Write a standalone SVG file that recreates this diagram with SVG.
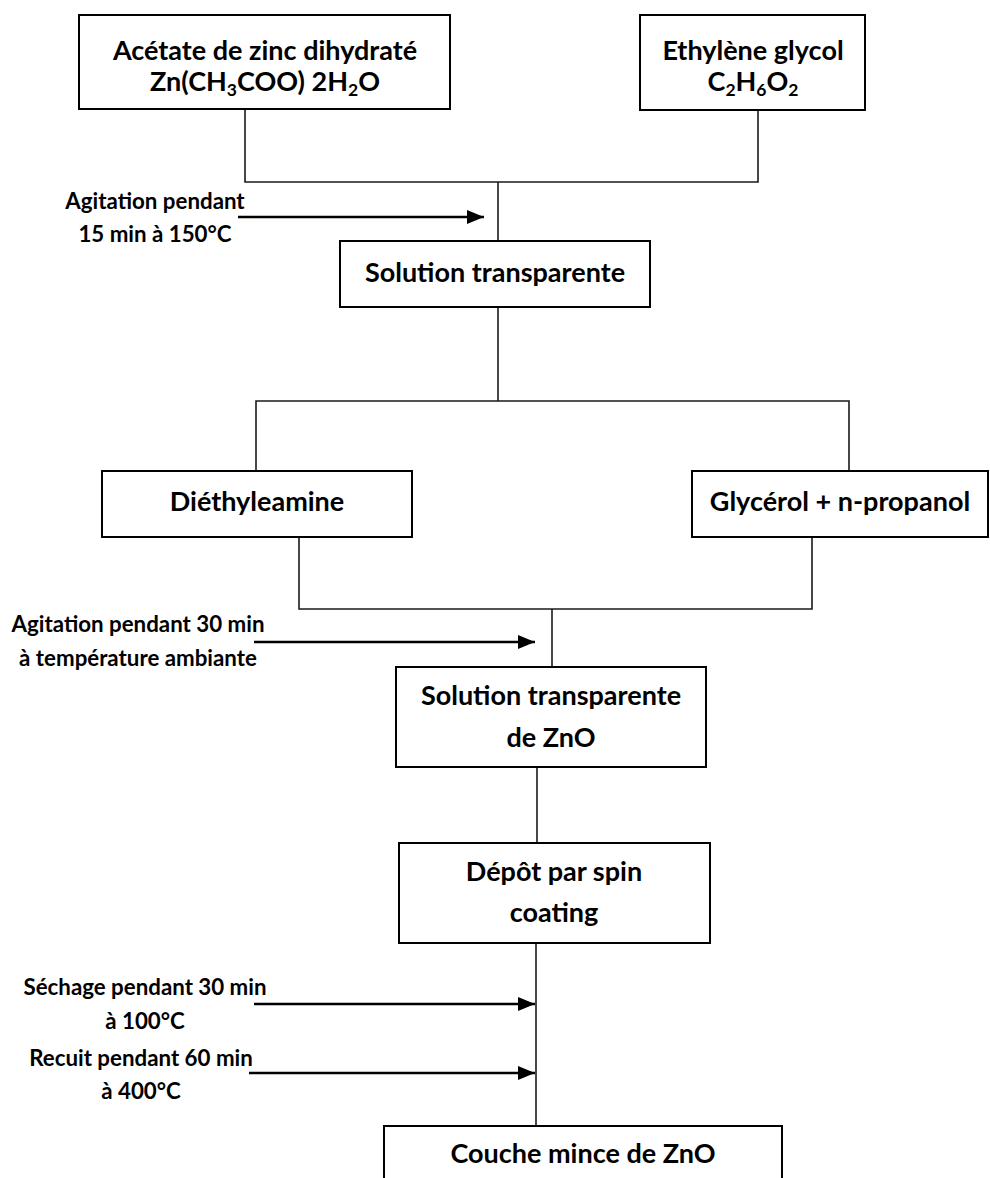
<svg xmlns="http://www.w3.org/2000/svg" width="990" height="1178" viewBox="0 0 990 1178">
  <style>
    .box { fill: #ffffff; stroke: #000000; stroke-width: 2; }
    .wire { fill: none; stroke: #1a1a1a; stroke-width: 1.6; }
    .arrow { fill: none; stroke: #000000; stroke-width: 2.6; marker-end: url(#head); }
    .t { font-family: Lato, "Open Sans", "Liberation Sans", sans-serif; font-weight: 700; fill: #000000; text-anchor: middle; }
    .main { font-size: 27px; }
    .lbl { font-size: 22.3px; }
    .sub { font-size: 17.5px; }
  </style>
  <defs>
    <marker id="head" markerUnits="userSpaceOnUse" markerWidth="17" markerHeight="14" refX="17" refY="7" orient="auto">
      <path d="M0,0 L17,7 L0,14 Z" fill="#000000"/>
    </marker>
  </defs>

  <!-- connectors -->
  <g id="connectors">
    <path class="wire" d="M245,109 V182 H758 V110"/>
    <path class="wire" d="M498,182 V241"/>
    <path class="wire" d="M498,307 V401"/>
    <path class="wire" d="M256,471 V401 H849 V471"/>
    <path class="wire" d="M299,537 V609 H812 V537"/>
    <path class="wire" d="M552,609 V667"/>
    <path class="wire" d="M537,767 V843"/>
    <path class="wire" d="M536,943 V1126"/>
    <line class="arrow" x1="238" y1="217" x2="484" y2="217"/>
    <line class="arrow" x1="254" y1="642" x2="535" y2="642"/>
    <line class="arrow" x1="254" y1="1004" x2="535" y2="1004"/>
    <line class="arrow" x1="249" y1="1073" x2="535" y2="1073"/>
  </g>

  <!-- step labels -->
  <g id="labels">
    <text class="t lbl" x="155" y="209">Agitation pendant</text>
    <text class="t lbl" x="155" y="242">15 min à 150°C</text>
    <text class="t lbl" x="138" y="632">Agitation pendant 30 min</text>
    <text class="t lbl" x="138" y="666">à température ambiante</text>
    <text class="t lbl" x="145" y="995">Séchage pendant 30 min</text>
    <text class="t lbl" x="145" y="1029">à 100°C</text>
    <text class="t lbl" x="141" y="1066">Recuit pendant 60 min</text>
    <text class="t lbl" x="141" y="1099">à 400°C</text>
  </g>

  <g id="acetate">
    <rect class="box" x="79" y="15" width="371" height="94"/>
    <text class="t main" x="265" y="60">Acétate de zinc dihydraté</text>
    <text class="t main" x="265" y="91">Zn(CH<tspan class="sub" dy="5">3</tspan><tspan dy="-5">COO) 2H</tspan><tspan class="sub" dy="5">2</tspan><tspan dy="-5">O</tspan></text>
  </g>

  <g id="ethylene">
    <rect class="box" x="640" y="15" width="225" height="95"/>
    <text class="t main" x="753" y="60">Ethylène glycol</text>
    <text class="t main" x="753" y="91">C<tspan class="sub" dy="5">2</tspan><tspan dy="-5">H</tspan><tspan class="sub" dy="5">6</tspan><tspan dy="-5">O</tspan><tspan class="sub" dy="5">2</tspan></text>
  </g>

  <g id="solution">
    <rect class="box" x="340" y="241" width="310" height="66"/>
    <text class="t main" x="495" y="282">Solution transparente</text>
  </g>

  <g id="diethyleamine">
    <rect class="box" x="102" y="471" width="310" height="66"/>
    <text class="t main" x="257" y="511">Diéthyleamine</text>
  </g>

  <g id="glycerol">
    <rect class="box" x="692" y="471" width="296" height="66"/>
    <text class="t main" x="840" y="511">Glycérol + n-propanol</text>
  </g>

  <g id="solution-zno">
    <rect class="box" x="396" y="667" width="310" height="100"/>
    <text class="t main" x="551" y="705">Solution transparente</text>
    <text class="t main" x="551" y="747">de ZnO</text>
  </g>

  <g id="depot">
    <rect class="box" x="399" y="843" width="311" height="100"/>
    <text class="t main" x="554" y="881">Dépôt par spin</text>
    <text class="t main" x="554" y="922">coating</text>
  </g>

  <g id="couche">
    <rect class="box" x="384" y="1126" width="398" height="70"/>
    <text class="t main" x="583" y="1163">Couche mince de ZnO</text>
  </g>
</svg>
